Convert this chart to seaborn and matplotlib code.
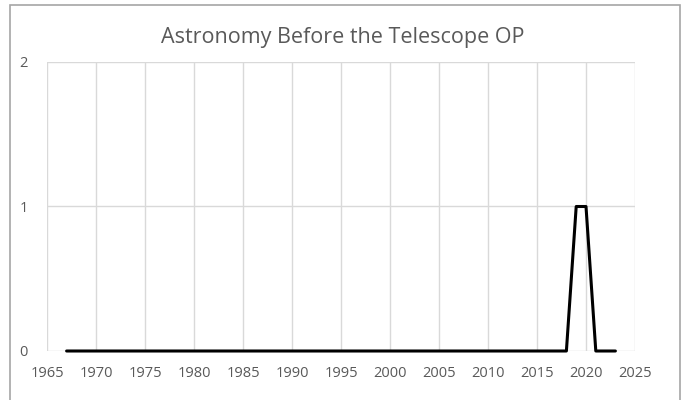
import matplotlib
matplotlib.use("Agg")
import matplotlib.pyplot as plt
import seaborn as sns
import pandas as pd
from matplotlib.patches import Rectangle

years = list(range(1967, 2024))
values = [1 if y in (2019, 2020) else 0 for y in years]
x_ticks = list(range(1965, 2030, 5))
y_ticks = [0, 1, 2]
title = "Astronomy Before the Telescope OP"

df = pd.DataFrame({"year": years, "value": values})

sns.set_theme(style="white")
plt.rcParams['font.family'] = ['Open Sans', 'DejaVu Sans']

fig = plt.figure(figsize=(6.86, 4.0), dpi=100)
ax = fig.add_axes([47/686, 1-351/400, (635-47)/686, (351-62)/400])

sns.lineplot(data=df, x="year", y="value", ax=ax, color="black", linewidth=2.2)
for line in ax.get_lines():
    line.set_clip_on(False)

ax.set_xlim(1965, 2025)
ax.set_ylim(0, 2)
ax.set_xticks(x_ticks)
ax.set_yticks(y_ticks)
ax.set_xticklabels([str(t) for t in x_ticks])
ax.set_yticklabels([str(t) for t in y_ticks])
ax.grid(True, color="#d9d9d9", linewidth=1)
ax.set_axisbelow(True)
for s in ax.spines.values():
    s.set_visible(False)
ax.tick_params(axis="both", length=0, labelsize=10.5, labelcolor="#595959")
ax.tick_params(axis="x", pad=11)
ax.tick_params(axis="y", pad=14)
ax.set_xlabel("")
ax.set_ylabel("")

fig.text(0.5, 1-38/400, title, ha="center", va="center", fontsize=15.5, color="#595959")

fig.patches.append(Rectangle((10/686, -0.01), (680-10)/686, (395/400)+0.01,
                             transform=fig.transFigure, fill=False,
                             edgecolor="#a6a6a6", linewidth=1.2))

fig.savefig("out.png", dpi=100)
